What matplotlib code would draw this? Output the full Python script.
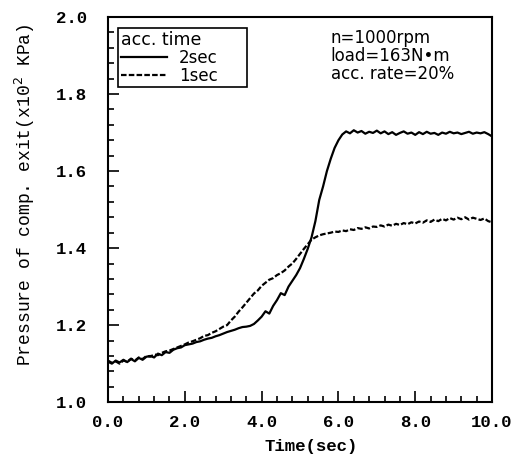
import matplotlib
matplotlib.use("Agg")
import matplotlib.pyplot as plt
import numpy as np
from matplotlib.ticker import MultipleLocator

time_sec = [round(0.1 * i, 1) for i in range(101)]

p_2sec = [
    1.105, 1.100, 1.108, 1.103, 1.110, 1.104, 1.112, 1.106, 1.115, 1.110,
    1.118, 1.120, 1.116, 1.126, 1.122, 1.130, 1.128, 1.136, 1.140, 1.142,
    1.148,
    1.150, 1.152, 1.156, 1.158, 1.162, 1.165, 1.167, 1.171, 1.174, 1.178,
    1.182, 1.185, 1.188, 1.192, 1.195, 1.196, 1.198, 1.203, 1.212, 1.222,
    1.236, 1.230, 1.250, 1.265, 1.283, 1.278, 1.300, 1.315, 1.330, 1.348,
    1.372, 1.398, 1.428, 1.470, 1.525, 1.560, 1.600, 1.632, 1.660, 1.680,
    1.695, 1.703, 1.698, 1.706, 1.700, 1.704, 1.697, 1.702, 1.699, 1.705,
    1.698, 1.703, 1.696, 1.701, 1.694, 1.699, 1.703, 1.697, 1.700, 1.694,
    1.701, 1.696, 1.702, 1.697, 1.699, 1.694, 1.700, 1.697, 1.702, 1.698,
    1.700, 1.696, 1.699, 1.702, 1.697, 1.700, 1.698, 1.701, 1.696, 1.690,
]

p_1sec = [
    1.108, 1.102, 1.106, 1.100, 1.108, 1.105, 1.113, 1.108, 1.116, 1.112,
    1.120, 1.118, 1.124, 1.122, 1.128, 1.132, 1.134, 1.138, 1.142, 1.146,
    1.150,
    1.155, 1.158, 1.162, 1.166, 1.172, 1.174, 1.180, 1.184, 1.190, 1.196,
    1.200, 1.212, 1.222, 1.235, 1.246, 1.258, 1.270, 1.282, 1.290, 1.302,
    1.310, 1.318, 1.322, 1.330, 1.335, 1.342, 1.352, 1.360, 1.372, 1.385,
    1.398, 1.410, 1.422, 1.428, 1.433, 1.436, 1.438, 1.440, 1.443, 1.442,
    1.446, 1.444, 1.449, 1.447, 1.452, 1.450, 1.454, 1.451, 1.456, 1.455,
    1.459, 1.456, 1.461, 1.458, 1.463, 1.460, 1.465, 1.462, 1.467, 1.464,
    1.469, 1.466, 1.472, 1.468, 1.474, 1.470, 1.476, 1.472, 1.478, 1.474,
    1.479, 1.475, 1.480, 1.474, 1.479, 1.476, 1.473, 1.477, 1.470, 1.467,
]

series_labels = ["2sec", "1sec"]
legend_title = "acc. time"
conditions = ["n=1000rpm", "load=163N\u2022m", "acc. rate=20%"]
x_ticks = [0, 2, 4, 6, 8, 10]
x_tick_labels = ["0.0", "2.0", "4.0", "6.0", "8.0", "10.0"]
y_ticks = [1.0, 1.2, 1.4, 1.6, 1.8, 2.0]
y_tick_labels = ["1.0", "1.2", "1.4", "1.6", "1.8", "2.0"]

fig = plt.figure(figsize=(5.12, 4.66), dpi=100)
ax = fig.add_axes([0.211, 0.137, 0.750, 0.8265])

ax.plot(time_sec, p_2sec, color="black", lw=1.6, ls="-", label=series_labels[0])
ax.plot(time_sec, p_1sec, color="black", lw=1.6, ls=(0, (2.5, 1)), label=series_labels[1])

ax.set_xlim(0, 10)
ax.set_ylim(1.0, 2.0)
ax.set_xticks(x_ticks)
ax.set_xticklabels(x_tick_labels)
ax.set_yticks(y_ticks)
ax.set_yticklabels(y_tick_labels)
ax.xaxis.set_minor_locator(MultipleLocator(0.4))
ax.yaxis.set_minor_locator(MultipleLocator(0.04))
ax.tick_params(which="both", direction="in", top=False, right=False, width=1.2)
ax.tick_params(which="major", length=8)
ax.tick_params(axis="y", which="major", pad=15)
ax.tick_params(axis="x", which="major", pad=9)
ax.tick_params(which="minor", length=4)
for lab in ax.get_xticklabels() + ax.get_yticklabels():
    lab.set_fontfamily("Liberation Mono")
    lab.set_fontweight("bold")
    lab.set_fontsize(12.5)
for sp in ax.spines.values():
    sp.set_linewidth(1.5)

ax.set_xlabel("Time(sec)", fontfamily="Liberation Mono", fontweight="bold", fontsize=12.5)
ax.xaxis.set_label_coords(0.53, -0.095)
ax.set_ylabel("Pressure of comp. exit(x10$^{2}$ KPa)", fontfamily="Liberation Mono",
              fontsize=13)
ax.yaxis.set_label_coords(-0.185, 0.538)

leg = ax.legend(title=legend_title, loc="upper left",
                bbox_to_anchor=(0.026, 0.971, 0.336, 0.0), mode="expand",
                frameon=True, fancybox=False, edgecolor="black", framealpha=1,
                prop={"family": "DejaVu Sans", "size": 12}, handlelength=2.8,
                borderpad=0.15, labelspacing=0.0, handletextpad=0.7, borderaxespad=0)
leg.get_title().set_fontsize(12.5)
leg.get_title().set_fontfamily("DejaVu Sans")
leg._legend_box.align = "left"
leg.get_frame().set_linewidth(1.2)

ax.text(5.8, 1.968, "\n".join(conditions), ha="left", va="top",
        fontfamily="DejaVu Sans", fontsize=12, linespacing=1.0)

fig.savefig("out.png", dpi=100)
